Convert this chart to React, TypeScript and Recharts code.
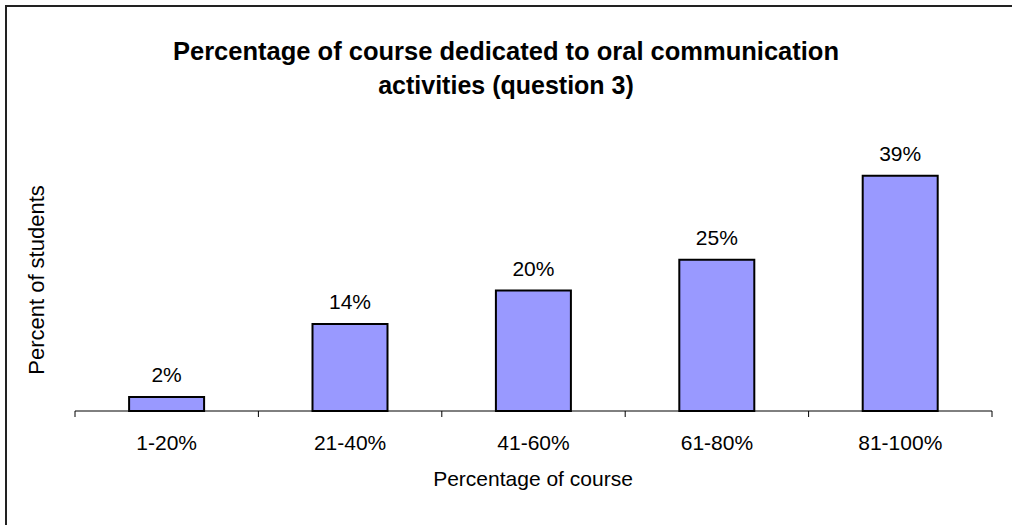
import { BarChart, Bar, XAxis, YAxis, LabelList } from 'recharts';

const categories = ['1-20%', '21-40%', '41-60%', '61-80%', '81-100%'];
const percents = [2.3, 14.4, 19.9, 25.0, 38.9];

const data = categories.map((range, i) => ({ range, pct: percents[i] }));

const FONT = '"Liberation Sans", Arial, sans-serif';
const W = 1012;
const H = 525;
// XAxis adds its own 30px below the bottom margin
const MARGIN = { top: 169, right: 20, bottom: 84, left: 75 };
const BAND = (W - MARGIN.left - MARGIN.right) / categories.length;

// Excel puts the tick marks between categories, not under them
const CategoryTick = (props: any) => {
  const { x, y, payload, index } = props;
  const left = x - BAND / 2;
  return (
    <g>
      <line x1={left} y1={y - 8} x2={left} y2={y - 2} stroke="#000" />
      {index === categories.length - 1 && (
        <line x1={left + BAND} y1={y - 8} x2={left + BAND} y2={y - 2} stroke="#000" />
      )}
      <text x={x} y={y + 31} textAnchor="middle" fontSize={21} fontFamily={FONT} fill="#000">
        {payload.value}
      </text>
    </g>
  );
};

const App = () => (
  <div style={{ position: 'absolute', left: 0, top: 0, width: W, height: H, overflow: 'hidden', background: '#fff' }}>
    <div
      style={{
        position: 'absolute',
        left: 5,
        top: 5,
        width: W,
        height: H,
        borderLeft: '2px solid #222',
        borderTop: '2px solid #222',
      }}
    />
    <div style={{ position: 'absolute', left: 0, top: 0 }}>
      <BarChart width={W} height={H} data={data} margin={MARGIN} barCategoryGap="29.5%">
        <text x={506} y={60} textAnchor="middle" fontSize={25.5} fontWeight="bold" fontFamily={FONT} fill="#000">
          Percentage of course dedicated to oral communication
        </text>
        <text x={506} y={94} textAnchor="middle" fontSize={25} fontWeight="bold" fontFamily={FONT} fill="#000">
          activities (question 3)
        </text>
        <text x={533} y={486} textAnchor="middle" fontSize={21} fontFamily={FONT} fill="#000">
          Percentage of course
        </text>
        <text
          x={44}
          y={280}
          textAnchor="middle"
          fontSize={22}
          fontFamily={FONT}
          fill="#000"
          transform="rotate(-90 44 280)"
        >
          Percent of students
        </text>
        <XAxis
          dataKey="range"
          axisLine={{ stroke: '#000' }}
          tickLine={false}
          tick={<CategoryTick />}
          interval={0}
        />
        <YAxis hide domain={[0, 40]} />
        <Bar dataKey="pct" fill="#9999FF" stroke="#000" strokeWidth={2} isAnimationActive={false}>
          <LabelList
            dataKey="pct"
            position="top"
            offset={15}
            formatter={(v: any) => `${Math.round(Number(v))}%`}
            style={{ fontSize: 21, fontFamily: FONT, fill: '#000' }}
          />
        </Bar>
      </BarChart>
    </div>
  </div>
);

export default App;
